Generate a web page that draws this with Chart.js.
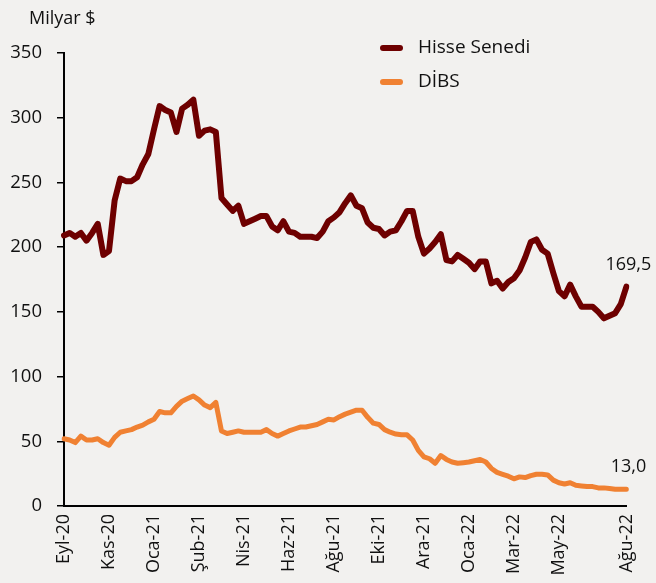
<!DOCTYPE html>
<html>
<head>
<meta charset="utf-8">
<script src="https://cdn.jsdelivr.net/npm/chart.js@4/dist/chart.umd.min.js"></script>
<style>
  html, body { margin: 0; padding: 0; background: #f2f1ef; }
  #wrap { width: 656px; height: 583px; }
</style>
</head>
<body>
<div id="wrap"><canvas id="chart" width="656" height="583"></canvas></div>
<script>
// weekly points, a month label every 8 weeks
const monthLabels = ["Eyl-20","Kas-20","Oca-21","Şub-21","Nis-21","Haz-21","Ağu-21","Eki-21","Ara-21","Oca-22","Mar-22","May-22"];
const lastLabel = "Ağu-22";
const seriesNames = ["Hisse Senedi", "DİBS"];
const yTicks = [0, 50, 100, 150, 200, 250, 300, 350];

const hisse = [
  209,211,208,211,205,211,218,194,197,236,
  253,251,251,254,264,272,291,309,306,304,
  289,307,310,314,286,290,291,289,238,233,
  228,232,218,220,222,224,224,216,213,220,
  212,211,208,208,208,207,212,220,223,227,
  234,240,232,230,219,215,214,209,212,213,
  220,228,228,208,195,199,204,210,190,189,
  194,191,188,183,189,189,172,174,168,173,
  176,182,192,204,206,198,195,180,166,162,
  171,162,154,154,154,150,145,147,149,156,
  169.5
];
const dibs = [
  52,51,49,54,51,51,52,49,47,53,
  57,58,59,61,62.5,65,67,73,72,72,
  77,81,83,85,82,78,76,80,58,56,
  57,58,57,57,57,57,59,56,54,56,
  58,59.5,61,61,62,63,65,67,66.5,69,
  71,72.5,74,74,68.5,64,63,59,57,55.6,
  55,55,51,43,38,36.5,33,39,36,34,
  33,33.5,34,35,36,34,29,26,24.5,23,
  21,22.5,22,23.5,24.5,24.5,24,20,18,17,
  18,16,15.5,15,15,14,14,13.5,13,13,
  13
];

const labels = hisse.map((v, i) => {
  if (i === hisse.length - 1) return lastLabel;
  if (i % 8 === 0 && monthLabels[i / 8]) return monthLabels[i / 8];
  return "";
});

const colors = ["#6e0000", "#f08132"];
const font = "'Open Sans', sans-serif";

const extras = {
  id: "extras",
  afterDraw(chart) {
    const ctx = chart.ctx;
    ctx.save();
    ctx.fillStyle = "#111";
    ctx.font = "18px " + font;
    ctx.textBaseline = "middle";
    ctx.textAlign = "left";
    ctx.fillText("Milyar $", 29, 19);

    // end value labels
    ctx.textAlign = "center";
    chart.data.datasets.forEach((ds, k) => {
      const pts = chart.getDatasetMeta(k).data;
      const p = pts[pts.length - 1];
      const v = ds.data[ds.data.length - 1];
      ctx.fillText(v.toFixed(1).replace(".", ","), p.x + 2, p.y - 22);
    });

    // legend
    ctx.font = "19px " + font;
    ctx.textAlign = "left";
    ctx.lineCap = "round";
    ctx.lineWidth = 6;
    seriesNames.forEach((name, k) => {
      const y = 48 + k * 34;
      ctx.strokeStyle = colors[k];
      ctx.beginPath();
      ctx.moveTo(383, y);
      ctx.lineTo(400, y);
      ctx.stroke();
      ctx.fillText(name, 418, y);
    });
    ctx.restore();
  }
};

new Chart(document.getElementById("chart"), {
  type: "line",
  data: {
    labels: labels,
    datasets: [
      { label: seriesNames[0], data: hisse, borderColor: colors[0], borderWidth: 6 },
      { label: seriesNames[1], data: dibs, borderColor: colors[1], borderWidth: 5 }
    ]
  },
  plugins: [extras],
  options: {
    responsive: false,
    animation: false,
    events: [],
    elements: {
      point: { radius: 0 },
      line: { tension: 0, borderJoinStyle: "round", borderCapStyle: "round" }
    },
    layout: { padding: { top: 53, right: 28, left: 0, bottom: 0 } },
    plugins: { legend: { display: false }, tooltip: { enabled: false } },
    scales: {
      x: {
        offset: false,
        grid: { display: false, drawTicks: false },
        border: { display: true, color: "#000", width: 2 },
        ticks: {
          autoSkip: false, maxRotation: 90, minRotation: 90, padding: 8,
          color: "#111", font: { family: font, size: 18 },
          callback: (v, i) => labels[i]
        },
        afterFit: s => { s.height = 77; }
      },
      y: {
        min: 0, max: 350,
        afterBuildTicks: s => { s.ticks = yTicks.map(v => ({ value: v })); },
        grid: { drawOnChartArea: false, drawTicks: true, tickLength: 7, color: "#000", lineWidth: 1.5 },
        border: { display: true, color: "#000", width: 2 },
        ticks: { padding: 15, color: "#111", font: { family: font, size: 18.5 } },
        afterFit: s => { s.width = 64; }
      }
    }
  }
});
</script>
</body>
</html>
